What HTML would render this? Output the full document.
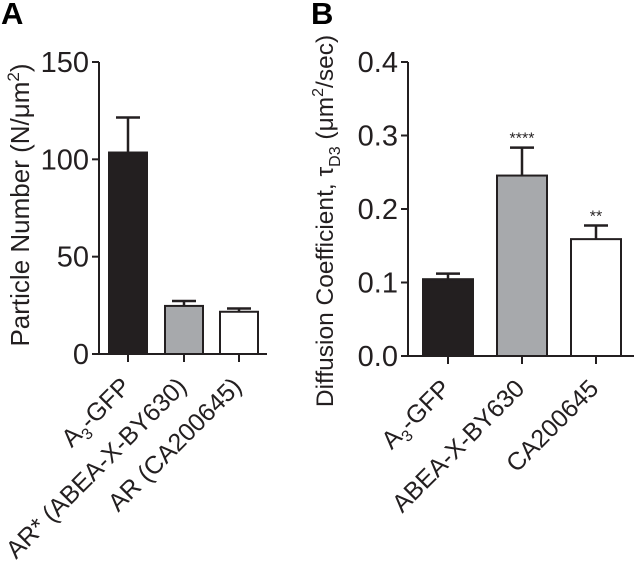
<!DOCTYPE html>
<html><head><meta charset="utf-8"><style>
body{margin:0;background:#fff}
svg{display:block;font-family:"Liberation Sans",Arial,sans-serif}
</style></head><body>
<svg id="chart" width="634" height="565" viewBox="0 0 634 565">
<text x="1" y="24" font-size="31" font-weight="bold">A</text>
<text x="311" y="24" font-size="31" font-weight="bold">B</text>
<g id="pa"></g>
<g id="pb"></g>
</svg>
<script>
const catsA = ["A3-GFP","AR* (ABEA-X-BY630)","AR (CA200645)"];
const valsA = [103.5, 24.7, 21.7];
const errA = [18, 2.5, 1.7];
const ticksA = [0, 50, 100, 150];
const catsB = ["A3-GFP","ABEA-X-BY630","CA200645"];
const valsB = [0.1045, 0.2455, 0.159];
const errB = [0.0075, 0.038, 0.0185];
const ticksB = [0.0, 0.1, 0.2, 0.3, 0.4];
const starsB = ["", "****", "**"];
const fills = ["#231f20","#a7a9ac","#ffffff"];
const NS="http://www.w3.org/2000/svg";
function mk(p,t,a){const e=document.createElementNS(NS,t);for(const k in a)e.setAttribute(k,a[k]);p.appendChild(e);return e;}
function panel(g,o){
  const y=v=>o.y0-(v-o.min)/(o.max-o.min)*(o.y0-o.y1);
  const ax=mk(g,'line',{x1:o.ax,x2:o.ax,y1:o.y1,y2:o.y0,stroke:'#231f20','stroke-width':2});
  
  
  const bl=mk(g,'line',{x1:o.ax-7,x2:o.bx2,y1:o.y0,y2:o.y0,stroke:'#231f20','stroke-width':2});
  
  
  o.ticks.forEach(t=>{
    const l=mk(g,'line',{x1:o.ax-7,x2:o.ax,y1:y(t),y2:y(t),stroke:'#231f20','stroke-width':2});
    
    
    const tx=mk(g,'text',{x:o.ax-10,y:y(t)+10,'font-size':29,'text-anchor':'end',fill:'#231f20'});
    tx.textContent=o.fmt(t);
    
    
  });
  o.vals.forEach((v,i)=>{
    const x0=o.bx[i], cx=x0+o.bw/2;
    const r=mk(g,'rect',{x:x0,y:y(v),width:o.bw,height:o.y0-y(v),fill:fills[i],stroke:'#231f20','stroke-width':2});
    
    
    const e=mk(g,'path',{d:`M${cx},${y(v)}V${y(v+o.err[i])}M${cx-12},${y(v+o.err[i])}H${cx+12}`,stroke:'#231f20','stroke-width':2.5,fill:'none'});
    
    
    const tk=mk(g,'line',{x1:cx,x2:cx,y1:o.y0,y2:o.y0+8,stroke:'#231f20','stroke-width':2});
    
    
    const lt=mk(g,'text',{transform:`translate(${cx+4},${o.y0+34}) rotate(-45)`,'font-size':25,'text-anchor':'end',fill:'#231f20'});
    const c=o.cats[i];
    if(c.startsWith('A3')){lt.innerHTML='A<tspan font-size="16" dy="6">3</tspan><tspan dy="-6">'+c.slice(2)+'</tspan>';}
    else lt.textContent=c;
    
    
    if(o.stars&&o.stars[i]){
      const s=mk(g,'text',{x:cx,y:y(v+o.err[i])-4,'font-size':16,'text-anchor':'middle',fill:'#231f20'});
      s.textContent=o.stars[i];
      
      
    }
  });
  const tt=mk(g,'text',{transform:`translate(${o.tx},${o.ty}) rotate(-90)`,'font-size':o.fs,'text-anchor':'middle',fill:'#231f20'});
  tt.innerHTML=o.title;
  
  
}
panel(document.getElementById('pa'),{min:0,max:150,y0:354,y1:62,ax:99,bx2:267,bx:[109,165,220],bw:38,vals:valsA,err:errA,ticks:ticksA,cats:catsA,fmt:t=>String(t),fs:26,
  tx:29,ty:205,title:'Particle Number (N/μm<tspan font-size="17" dy="-10">2</tspan><tspan dy="10">)</tspan>'});
panel(document.getElementById('pb'),{min:0,max:0.4,y0:356,y1:62,ax:408,bx2:634,bx:[423,497,571],bw:50,vals:valsB,err:errB,ticks:ticksB,cats:catsB,fmt:t=>t.toFixed(1),stars:starsB,fs:24.5,
  tx:333,ty:221,title:'Diffusion Coefficient, τ<tspan font-size="16" dy="7">D3</tspan><tspan dy="-7"> (μm</tspan><tspan font-size="16" dy="-10">2</tspan><tspan dy="10">/sec)</tspan>'});
</script>
</body></html>
